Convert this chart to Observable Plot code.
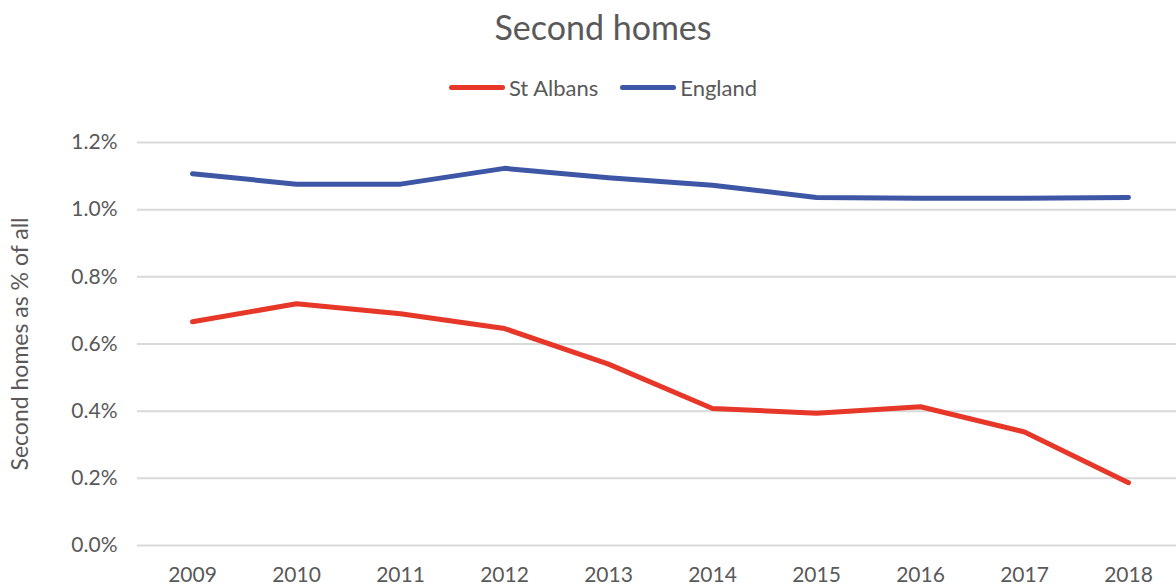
<!DOCTYPE html>
<html>
<head>
<meta charset="utf-8">
<script src="https://cdn.jsdelivr.net/npm/d3@7"></script>
<script src="https://cdn.jsdelivr.net/npm/@observablehq/plot@0.6"></script>
<style>
  html, body { margin: 0; padding: 0; background: #fff; }
  body { width: 1176px; height: 588px; overflow: hidden; font-family: Lato, "Open Sans", sans-serif; color: #595959; }
  #title { height: 56px; line-height: 54px; text-align: center; font-size: 34px; padding-left: 30px; }
  #legend { height: 59px; display: flex; justify-content: center; align-items: center; font-size: 22px; gap: 22px; padding-left: 30px; box-sizing: border-box; padding-top: 4px; }
  .item { display: flex; align-items: center; gap: 4px; }
  .sw { width: 56px; height: 5px; border-radius: 3px; }
  svg { display: block; }
</style>
</head>
<body>
<div id="title">Second homes</div>
<div id="legend"></div>
<div id="chart"></div>
<script>
const years = ["2009","2010","2011","2012","2013","2014","2015","2016","2017","2018"];
const stAlbans = [0.666, 0.720, 0.690, 0.646, 0.540, 0.408, 0.394, 0.413, 0.338, 0.187];
const england  = [1.107, 1.076, 1.076, 1.123, 1.095, 1.073, 1.036, 1.034, 1.034, 1.036];
const seriesNames = ["St Albans", "England"];
const seriesColors = ["#E63729", "#3D56A5"];
const yTicks = [0, 0.2, 0.4, 0.6, 0.8, 1.0, 1.2];

const data = [];
years.forEach((y, i) => {
  data.push({year: y, value: stAlbans[i], series: seriesNames[0]});
  data.push({year: y, value: england[i], series: seriesNames[1]});
});

const legend = document.getElementById("legend");
seriesNames.forEach((n, i) => {
  const it = document.createElement("div");
  it.className = "item";
  it.innerHTML = `<div class="sw" style="background:${seriesColors[i]}"></div><span>${n}</span>`;
  legend.appendChild(it);
});

const chart = Plot.plot({
  width: 1176,
  height: 473,
  marginTop: 27,
  marginBottom: 43,
  marginLeft: 137,
  marginRight: -7,
  style: {fontFamily: "Lato, 'Open Sans', sans-serif", fontSize: "21px", color: "#595959", overflow: "hidden"},
  x: {type: "point", domain: years, padding: 0.5, label: null},
  y: {domain: [0, 1.2], label: null},
  color: {domain: seriesNames, range: seriesColors},
  marks: [
    Plot.gridY(yTicks, {stroke: "#d9d9d9", strokeOpacity: 1, strokeWidth: 2}),
    Plot.axisX({tickSize: 0, tickPadding: 22, fontSize: 21, label: null}),
    Plot.axisY({ticks: yTicks, tickFormat: d => d.toFixed(1) + "%", tickSize: 0, tickPadding: 20, fontSize: 21, label: null}),
    Plot.line(data, {x: "year", y: "value", stroke: "series", z: "series", strokeWidth: 5, strokeLinecap: "round", strokeLinejoin: "round"}),
    Plot.text(["Second homes as % of all"], {frameAnchor: "left", textAnchor: "middle", dx: -117, rotate: -90, fontSize: 23, fill: "#595959"})
  ]
});
document.getElementById("chart").appendChild(chart);
</script>
</body>
</html>
